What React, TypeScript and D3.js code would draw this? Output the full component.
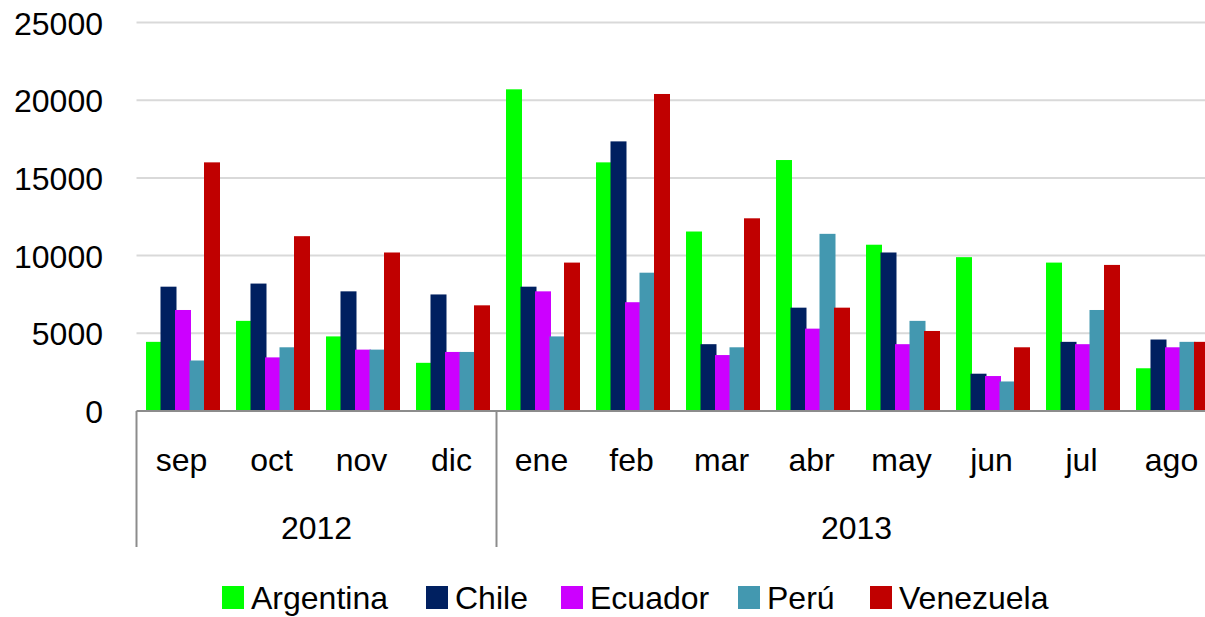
import React from "react";
import * as d3 from "d3";

const months = ["sep", "oct", "nov", "dic", "ene", "feb", "mar", "abr", "may", "jun", "jul", "ago"];
const years = [
  { label: "2012", from: 0, to: 4 },
  { label: "2013", from: 4, to: 12 },
];
const seriesNames = ["Argentina", "Chile", "Ecuador", "Perú", "Venezuela"];
const argentina = [4450, 5800, 4800, 3100, 20700, 16000, 11550, 16150, 10700, 9900, 9550, 2750];
const chile = [8000, 8200, 7700, 7500, 8000, 17350, 4300, 6650, 10200, 2400, 4450, 4600];
const ecuador = [6500, 3450, 3950, 3800, 7700, 7000, 3600, 5300, 4300, 2250, 4300, 4100];
const peru = [3250, 4100, 3950, 3800, 4800, 8900, 4100, 11400, 5800, 1900, 6500, 4450];
const venezuela = [16000, 11250, 10200, 6800, 9550, 20400, 12400, 6650, 5150, 4100, 9400, 4450];
const seriesValues = [argentina, chile, ecuador, peru, venezuela];
const colors = ["#00FF00", "#002060", "#CC00FF", "#4398B0", "#C00000"];
const yTicks = [0, 5000, 10000, 15000, 20000, 25000];

const W = 1205;
const H = 617;
const FONT = "'Liberation Sans', Arial, sans-serif";

export default function App() {
  const x0 = 136.5;
  const x1 = 1216.5;
  const yBase = 411;
  const yTopPx = 22.5;

  const x = d3.scaleBand<string>().domain(months).range([x0, x1]).paddingInner(0).paddingOuter(0);
  const y = d3.scaleLinear().domain([0, 25000]).range([yBase, yTopPx]);

  const bw = x.bandwidth();
  const groupOffset = 9.5;
  const pitch = 14.5;
  const barW = 16;

  const legendX = [222, 426, 561, 738, 870];

  return (
    <svg width={W} height={H} style={{ display: "block", position: "absolute", left: 0, top: 0 }}
      fontFamily={FONT}>
      <rect x={0} y={0} width={W} height={H} fill="#fff" />
      {/* gridlines */}
      {yTicks.filter((t) => t > 0).map((t) => (
        <line key={t} x1={x0} x2={x1} y1={y(t)} y2={y(t)} stroke="#D9D9D9" strokeWidth={2} />
      ))}
      {/* y tick labels */}
      {yTicks.map((t) => (
        <text key={"yl" + t} x={103} y={y(t) + 12} textAnchor="end" fontSize={32} fill="#000">
          {t}
        </text>
      ))}
      {/* bars */}
      {seriesValues.map((vals, si) => (
        <g key={seriesNames[si]}>
          {vals.map((v, mi) => (
            <rect
              key={mi}
              x={(x(months[mi]) as number) + groupOffset + si * pitch}
              y={y(v)}
              width={barW}
              height={yBase - y(v)}
              fill={colors[si]}
            />
          ))}
        </g>
      ))}
      {/* axis line */}
      <line x1={x0} x2={x1} y1={yBase} y2={yBase} stroke="#8C8C8C" strokeWidth={2} />
      {/* group separators */}
      {[0, 4, 12].map((i) => {
        const xx = i < 12 ? (x(months[i]) as number) : x1;
        return <line key={"sep" + i} x1={xx} x2={xx} y1={yBase} y2={547} stroke="#8C8C8C" strokeWidth={2} />;
      })}
      {/* month labels */}
      {months.map((m) => (
        <text key={m} x={(x(m) as number) + bw / 2} y={471} textAnchor="middle" fontSize={32} fill="#000">
          {m}
        </text>
      ))}
      {/* year labels */}
      {years.map((yr) => {
        const a = x(months[yr.from]) as number;
        const b = yr.to < 12 ? (x(months[yr.to]) as number) : x1;
        return (
          <text key={yr.label} x={(a + b) / 2} y={539} textAnchor="middle" fontSize={32} fill="#000">
            {yr.label}
          </text>
        );
      })}
      {/* legend */}
      {seriesNames.map((n, i) => (
        <g key={"lg" + n}>
          <rect x={legendX[i]} y={586} width={22} height={23} fill={colors[i]} />
          <text x={legendX[i] + 29} y={609} fontSize={32} fill="#000">
            {n}
          </text>
        </g>
      ))}
    </svg>
  );
}
